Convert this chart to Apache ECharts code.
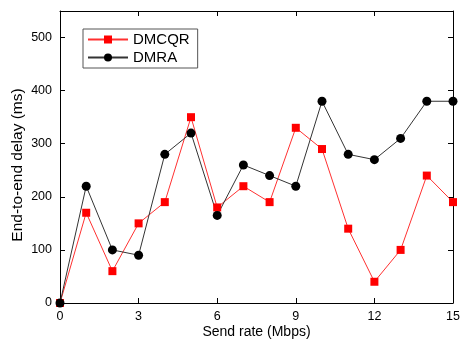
<!DOCTYPE html>
<html><head><meta charset="utf-8">
<script src="https://cdn.jsdelivr.net/npm/echarts@6/dist/echarts.min.js"></script>
<style>html,body{margin:0;padding:0;background:#fff}#c{width:460px;height:341px}</style>
</head><body><div id="c"></div>
<script>
const sendRate = [0,1,2,3,4,5,6,7,8,9,10,11,12,13,14,15];
const dmcqr = [0,170,60,150,190,350,180,220,190,330,290,140,40,100,240,190];
const dmra  = [0,220,100,90,280,320,165,260,240,220,380,280,270,310,380,380];
const xTitle = 'Send rate (Mbps)';
const yTitle = 'End-to-end delay (ms)';

const chart = echarts.init(document.getElementById('c'), null, {renderer:'canvas'});
const font = 'Liberation Sans, Arial, sans-serif';
const axisBase = {
  axisLine:{show:true,onZero:false,lineStyle:{color:'#000',width:1}},
  axisTick:{show:true,inside:true,length:5,lineStyle:{color:'#000',width:1}},
  splitLine:{show:false},
};
chart.setOption({
  animation:false,
  textStyle:{fontFamily:font},
  grid:{left:60,top:11,right:7,bottom:38,outerBoundsMode:'none',containLabel:false},
  legend:{
    left:83, top:29, orient:'vertical', itemGap:3,
    itemWidth:40, itemHeight:10,
    borderColor:'#555', borderWidth:1, padding:[3,8,3,4],
    textStyle:{fontFamily:font,fontSize:15,color:'#000'},
    data:['DMCQR','DMRA']
  },
  xAxis:[
    Object.assign({type:'value',min:0,max:15,interval:3,position:'bottom',
      name:xTitle,nameLocation:'middle',nameGap:22,nameMoveOverlap:false,
      nameTextStyle:{fontSize:14,color:'#000',fontFamily:font},
      axisLabel:{fontSize:12.5,color:'#000',margin:7,fontFamily:font}},axisBase),
    Object.assign({type:'value',min:0,max:15,interval:3,position:'top',
      axisLabel:{show:false}},axisBase)
  ],
  yAxis:[
    Object.assign({type:'value',min:0,max:550,interval:100,position:'left',
      name:yTitle,nameLocation:'middle',nameGap:34,nameMoveOverlap:false,
      nameTextStyle:{fontSize:15.5,color:'#000',fontFamily:font,padding:[0,16,0,0]},
      axisLabel:{fontSize:12.5,color:'#000',margin:8,fontFamily:font,
        formatter:v=> v>500?'':v}},axisBase),
    Object.assign({type:'value',min:0,max:550,interval:100,position:'right',
      axisLabel:{show:false}},axisBase)
  ],
  series:[
    {name:'DMCQR',type:'line',data:sendRate.map((x,i)=>[x,dmcqr[i]]),
      symbol:'rect',symbolSize:8,clip:false,
      lineStyle:{color:'#ff3030',width:1},itemStyle:{color:'#ff0000'}},
    {name:'DMRA',type:'line',data:sendRate.map((x,i)=>[x,dmra[i]]),
      symbol:'circle',symbolSize:9,clip:false,
      lineStyle:{color:'#333',width:1},itemStyle:{color:'#000'}}
  ]
});
</script></body></html>
